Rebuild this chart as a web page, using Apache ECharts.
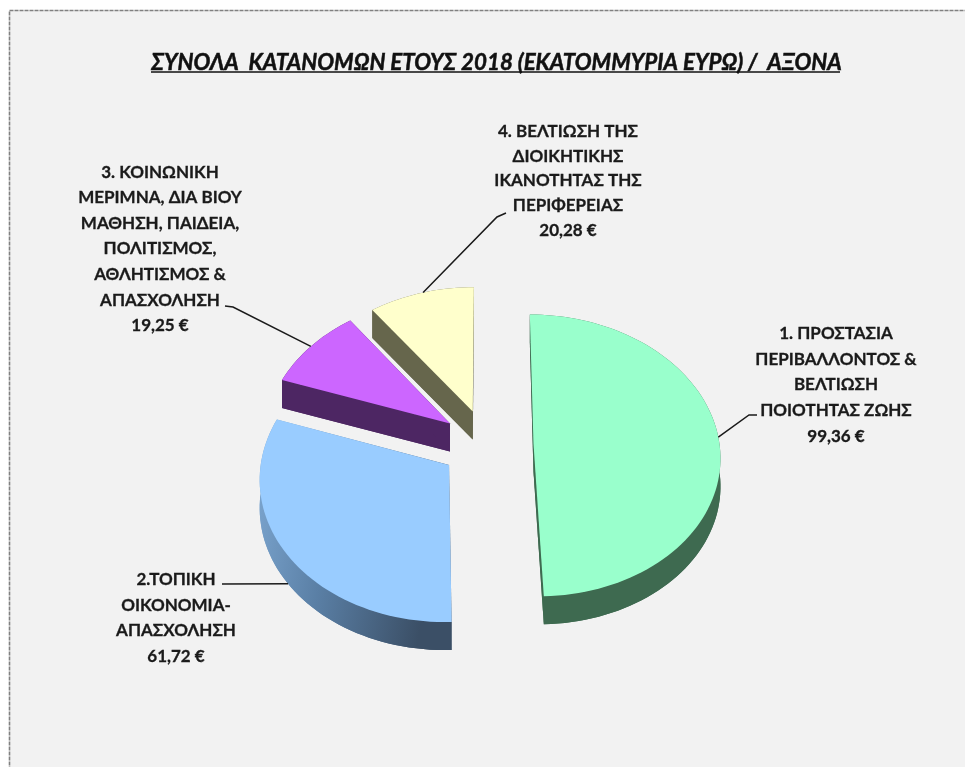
<!DOCTYPE html>
<html><head><meta charset="utf-8">
<style>html,body{margin:0;padding:0;background:#fff}#c{width:965px;height:767px}</style>
<script src="https://cdn.jsdelivr.net/npm/echarts@6/dist/echarts.min.js"></script>
</head><body><div id="c"></div>
<script>
const titleText = 'ΣΥΝΟΛΑ  ΚΑΤΑΝΟΜΩΝ ΕΤΟΥΣ 2018 (ΕΚΑΤΟΜΜΥΡΙΑ ΕΥΡΩ) /  ΑΞΟΝΑ';
const categories = [
  '1. ΠΡΟΣΤΑΣΙΑ\nΠΕΡΙΒΑΛΛΟΝΤΟΣ &\nΒΕΛΤΙΩΣΗ\nΠΟΙΟΤΗΤΑΣ ΖΩΗΣ',
  '2.ΤΟΠΙΚΗ\nΟΙΚΟΝΟΜΙΑ-\nΑΠΑΣΧΟΛΗΣΗ',
  '3. ΚΟΙΝΩΝΙΚΗ\nΜΕΡΙΜΝΑ, ΔΙΑ ΒΙΟΥ\nΜΑΘΗΣΗ, ΠΑΙΔΕΙΑ,\nΠΟΛΙΤΙΣΜΟΣ,\nΑΘΛΗΤΙΣΜΟΣ &\nΑΠΑΣΧΟΛΗΣΗ',
  '4. ΒΕΛΤΙΩΣΗ ΤΗΣ\nΔΙΟΙΚΗΤΙΚΗΣ\nΙΚΑΝΟΤΗΤΑΣ ΤΗΣ\nΠΕΡΙΦΕΡΕΙΑΣ'
];
const values = [99.36, 61.72, 19.25, 20.28];

const topColors = ['#99ffcc', '#99ccff', '#cc66ff', '#ffffcc'];
const sideColors = ['#3e6a50', null, '#4d2663', '#66664c'];
const labelCenters = [[836, 385], [176, 618], [160, 249], [568, 181]];
const labelLineHeights = [25.8, 25.6, 25.6, 24.8];
const leaderFractions = [0.49, 0.495, 0.5, 0.52];
const leaderDepths = [0, 28, 0, 0];
const leaderPaths = [
  [[749, 415], [757, 415]],
  [[222, 584]],
  [[233, 307], [225, 306]],
  [[497, 217], [506, 213]]
];

const total = values.reduce((s, v) => s + v, 0);
const PERSP = { x0: 487, y0: 444, a: 186, b: 140, k: 0.085, explode: 0.25, depth: 28, start: 0 };

function project(u, v, dz) {
  const w = 1 - PERSP.k * v;
  return [PERSP.x0 + PERSP.a * u / w, PERSP.y0 + PERSP.b * v / w + dz];
}
function sliceGeometry(index) {
  let before = 0;
  for (let i = 0; i < index; i++) before += values[i];
  const t0 = PERSP.start + before / total * 360;
  const t1 = t0 + values[index] / total * 360;
  const mid = (t0 + t1) / 2 * Math.PI / 180;
  return { t0, t1, ex: PERSP.explode * Math.sin(mid), ey: -PERSP.explode * Math.cos(mid) };
}
function rimPoint(g, deg, dz) {
  const t = deg * Math.PI / 180;
  return project(g.ex + Math.sin(t), g.ey - Math.cos(t), dz);
}

function renderSlice(params, api) {
  const i = params.dataIndex;
  const val = api.value(0);
  const g = sliceGeometry(i);
  const apexTop = project(g.ex, g.ey, 0);
  const apexBot = project(g.ex, g.ey, PERSP.depth);
  const rimTop = [], rimBot = [];
  const n = Math.max(8, Math.ceil((g.t1 - g.t0) / 2));
  for (let j = 0; j <= n; j++) {
    const d = g.t0 + (g.t1 - g.t0) * j / n;
    rimTop.push(rimPoint(g, d, 0));
    rimBot.push(rimPoint(g, d, PERSP.depth));
  }
  const side = sideColors[i] || new echarts.graphic.LinearGradient(0, 0, 1, 0.15, [
    { offset: 0, color: '#7ea8d2' }, { offset: 0.45, color: '#5a7fa5' }, { offset: 1, color: '#3b4f66' }
  ]);
  const wall = pts => ({ type: 'polygon', shape: { points: pts }, style: { fill: side }, silent: true });
  const children = [
    wall([apexBot].concat(rimBot)),
    wall(rimTop.concat(rimBot.slice().reverse())),
    wall([apexTop, rimTop[0], rimBot[0], apexBot]),
    wall([apexTop, rimTop[n], rimBot[n], apexBot]),
    { type: 'polygon', shape: { points: [apexTop].concat(rimTop) }, style: { fill: topColors[i] } }
  ];
  const leadStart = rimPoint(g, g.t0 + (g.t1 - g.t0) * leaderFractions[i], leaderDepths[i]);
  children.push({
    type: 'polyline',
    shape: { points: [leadStart].concat(leaderPaths[i]) },
    style: { stroke: '#1a1a1a', lineWidth: 1.5, fill: null }, silent: true
  });
  const money = val.toFixed(2).replace('.', ',') + ' €';
  children.push({
    type: 'text',
    x: labelCenters[i][0], y: labelCenters[i][1],
    style: {
      text: categories[i] + '\n' + money,
      font: 'bold 17px Lato, "Open Sans", sans-serif',
      lineHeight: labelLineHeights[i],
      fill: '#1a1a1a', stroke: '#1a1a1a', lineWidth: 0.3,
      align: 'center', verticalAlign: 'middle', textAlign: 'center'
    }, silent: true
  });
  return { type: 'group', children };
}

const chart = echarts.init(document.getElementById('c'), null, { renderer: 'canvas' });
chart.setOption({
  animation: false,
  backgroundColor: '#ffffff',
  title: {
    text: titleText, left: 491.5, top: 47, textAlign: 'center',
    textStyle: { fontFamily: 'Lato, "Open Sans", sans-serif', fontSize: 22.3, fontWeight: 'bold', fontStyle: 'italic', color: '#111111', textBorderColor: '#111111', textBorderWidth: 0.5 }
  },
  graphic: [
    { type: 'rect', z: -10, shape: { x: 9.5, y: 10.5, width: 1000, height: 800 },
      style: { fill: '#f2f2f2', stroke: '#808080', lineWidth: 1.6, lineDash: [4, 1] }, silent: true },
    { type: 'line', z: 10, shape: { x1: 151, y1: 72, x2: 840, y2: 72 }, style: { stroke: '#111111', lineWidth: 1.6 }, silent: true }
  ],
  series: [{
    type: 'custom', coordinateSystem: 'none', renderItem: renderSlice, clip: false,
    data: values.map((v, i) => ({ name: categories[i], value: [v] }))
  }]
});
</script></body></html>
